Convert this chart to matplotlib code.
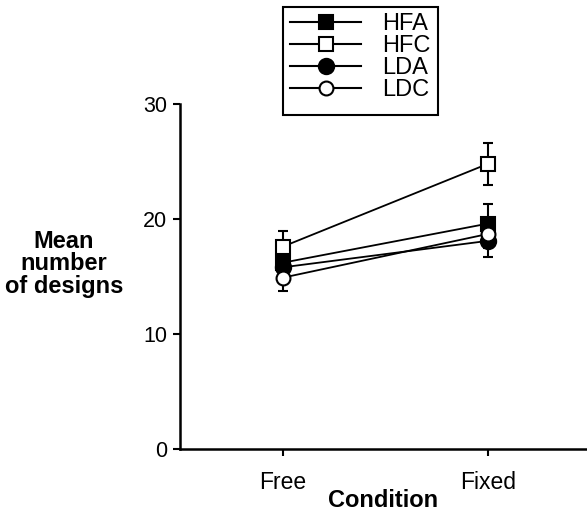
import numpy as np
import matplotlib
matplotlib.use("Agg")
import matplotlib.pyplot as plt
from matplotlib.lines import Line2D
from matplotlib.patches import Rectangle

plt.rcParams['font.family'] = ['Liberation Sans', 'DejaVu Sans']

# data
conditions = ["Free", "Fixed"]
hfa_mean = [16.2, 19.6]
hfa_err = [1.2, 1.7]
hfc_mean = [17.6, 24.8]
hfc_err = [1.4, 1.8]
lda_mean = [15.8, 18.1]
lda_err = [1.0, 1.4]
ldc_mean = [14.9, 18.7]
ldc_err = [1.2, 1.2]
y_ticks = [0, 10, 20, 30]

W, H = 587, 514
fig = plt.figure(figsize=(W / 100, H / 100), dpi=100)
ax = fig.add_axes([180 / W, 65 / H, (W - 180) / W, (449 - 104) / H])

x = np.arange(1, len(conditions) + 1)

# (label, means, errors, marker, facecolor, size)
series = [
    ("HFA", hfa_mean, hfa_err, "s", "black", 10),
    ("LDA", lda_mean, lda_err, "o", "black", 11),
    ("LDC", ldc_mean, ldc_err, "o", "white", 10),
    ("HFC", hfc_mean, hfc_err, "s", "white", 10),
]
handles = {}
for label, m, e, mk, fc, ms in series:
    ax.errorbar(x, m, yerr=e, color="black", lw=1.3, marker=mk, ms=ms,
                mfc=fc, mec="black", mew=1.5, capsize=3.5, capthick=1.8,
                elinewidth=1.5)
    # legend key: plain line + marker, no error bar
    handles[label] = Line2D([], [], color="black", lw=1.5, marker=mk, ms=ms,
                            mfc=fc, mec="black", mew=1.5)

ax.set_xlim(0.498, 2.483)
ax.set_ylim(0, 30)
ax.set_yticks(y_ticks)
ax.set_xticks(x)
ax.set_xticklabels(conditions)
ax.tick_params(axis="y", labelsize=15.5, length=5, width=1.5, direction="out", pad=4)
ax.tick_params(axis="x", labelsize=16.5, length=5, width=1.5, direction="out", pad=11)
for s in ["top", "right"]:
    ax.spines[s].set_visible(False)
for s in ["left", "bottom"]:
    ax.spines[s].set_linewidth(1.8)

ax.set_xlabel("Condition", fontsize=17, fontweight="bold", labelpad=-4)
fig.text(64 / W, 1 - 264 / H, "Mean\nnumber\nof designs", ha="center", va="center",
         fontsize=17, fontweight="bold", linespacing=0.95)

order = ["HFA", "HFC", "LDA", "LDC"]
leg = fig.legend([handles[k] for k in order], order, loc="upper left",
                 bbox_to_anchor=(283 / W, 1 - 6 / H), fontsize=17,
                 frameon=False,
                 handlelength=3.0, handletextpad=0.9, labelspacing=0.0,
                 borderpad=0.3, borderaxespad=0)
# the legend box is taller at the bottom than matplotlib pads it
fig.patches.append(Rectangle((283 / W, 1 - 115 / H), (438 - 283) / W, (115 - 7) / H,
                             transform=fig.transFigure, fill=False,
                             edgecolor="black", lw=1.5))

fig.savefig("out.png", dpi=100)
